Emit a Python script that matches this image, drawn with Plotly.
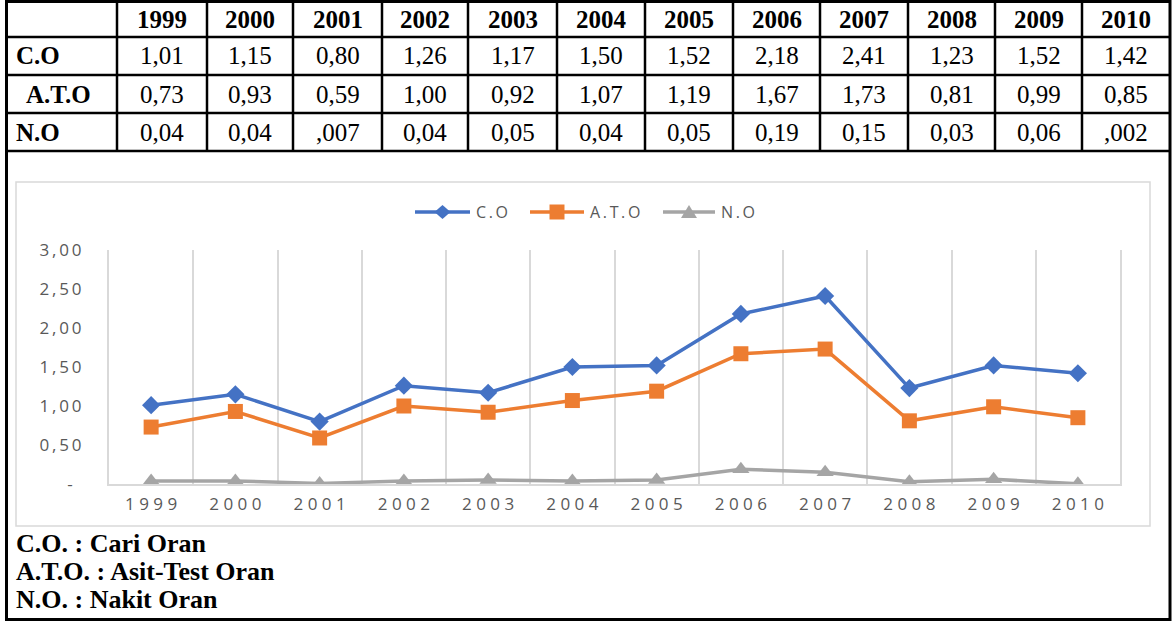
import plotly.graph_objects as go

# --- data -------------------------------------------------------------
years = [1999, 2000, 2001, 2002, 2003, 2004, 2005, 2006, 2007, 2008, 2009, 2010]
co = [1.01, 1.15, 0.80, 1.26, 1.17, 1.50, 1.52, 2.18, 2.41, 1.23, 1.52, 1.42]
ato = [0.73, 0.93, 0.59, 1.00, 0.92, 1.07, 1.19, 1.67, 1.73, 0.81, 0.99, 0.85]
no = [0.04, 0.04, 0.007, 0.04, 0.05, 0.04, 0.05, 0.19, 0.15, 0.03, 0.06, 0.002]

series_names = ["C.O", "A.T.O", "N.O"]
row_labels = ["C.O", "A.T.O", "N.O"]
y_ticks = [0, 0.5, 1.0, 1.5, 2.0, 2.5, 3.0]
notes = ["C.O. : Cari Oran", "A.T.O. : Asit-Test Oran", "N.O. : Nakit Oran"]

W, H = 1173, 622


def X(p):
    return p / W


def Y(p):
    return 1 - p / H


def fmt(v):
    # Turkish decimal comma; values under 0,01 written as ",00x"
    if v < 0.01:
        return ("%.3f" % v)[1:].replace(".", ",")
    return ("%.2f" % v).replace(".", ",")


def spaced(s, sep):
    return sep.join(list(str(s)))


def tick_fmt(v):
    if v == 0:
        return "-\u00a0\u00a0"
    return spaced(("%.2f" % v).replace(".", ","), "\u2009")


def poly(points):
    # closed SVG path in paper coordinates from pixel vertices
    return "M" + "L".join("%.5f,%.5f" % (X(px), Y(py)) for px, py in points) + "Z"


colors = ["#4472C4", "#ED7D31", "#A5A5A5"]
symbols = ["diamond", "square", "triangle-up"]
sizes = [14, 15, 15]

fig = go.Figure()
for name, vals, c, s, sz in zip(series_names, [co, ato, no], colors, symbols, sizes):
    fig.add_trace(go.Scatter(
        x=years, y=vals, name=name, mode="lines+markers",
        line=dict(color=c, width=3.5),
        marker=dict(symbol=s, size=sz, color=c, line=dict(width=0)),
        showlegend=False,
    ))

# --- table and frame ---------------------------------------------------
col_edges = [117, 207, 293, 382, 468, 557, 645, 733, 820, 908, 995, 1082, 1170]
row_edges = [1, 37, 75, 113, 151]
shapes = []
for y in row_edges[1:]:
    shapes.append(dict(type="line", xref="paper", yref="paper",
                       x0=X(6), x1=X(1170), y0=Y(y), y1=Y(y),
                       line=dict(color="black", width=2.5)))
for x in col_edges[:-1]:
    shapes.append(dict(type="line", xref="paper", yref="paper",
                       x0=X(x), x1=X(x), y0=Y(1), y1=Y(151),
                       line=dict(color="black", width=2.5)))
# outer frame
shapes.append(dict(type="rect", xref="paper", yref="paper",
                   x0=X(6.5), x1=X(1170), y0=Y(1.5), y1=Y(619.5),
                   line=dict(color="black", width=3)))
# chart frame
shapes.append(dict(type="rect", xref="paper", yref="paper",
                   x0=X(16), x1=X(1150), y0=Y(182), y1=Y(526),
                   line=dict(color="#D9D9D9", width=1.5), layer="below"))

# --- legend keys (line + marker glyph) ------------------------------------
legend_y = 212
legend_keys = [(415, 470), (530, 584), (663, 715)]
annotations = []
for (x0, x1), name, c, s in zip(legend_keys, series_names, colors, symbols):
    shapes.append(dict(type="line", xref="paper", yref="paper",
                       x0=X(x0), x1=X(x1), y0=Y(legend_y), y1=Y(legend_y),
                       line=dict(color=c, width=3.5)))
    cx = (x0 + x1) / 2
    if s == "diamond":
        pts = [(cx - 8, legend_y), (cx, legend_y - 7), (cx + 8, legend_y), (cx, legend_y + 7)]
    elif s == "square":
        pts = [(cx - 7.5, legend_y - 7.5), (cx + 7.5, legend_y - 7.5),
               (cx + 7.5, legend_y + 7.5), (cx - 7.5, legend_y + 7.5)]
    else:
        pts = [(cx - 8, legend_y + 6), (cx, legend_y - 7), (cx + 8, legend_y + 6)]
    shapes.append(dict(type="path", xref="paper", yref="paper", path=poly(pts),
                       fillcolor=c, line=dict(width=0)))
    annotations.append(dict(x=X(x1 + 4), y=Y(legend_y), xref="paper", yref="paper",
                            text=spaced(name, "\u2009"), showarrow=False,
                            font=dict(family="Open Sans", size=16, color="#595959"),
                            xanchor="left", yanchor="middle"))

# --- table text --------------------------------------------------------
serif = dict(family="Liberation Serif", size=25, color="black")
serif_b = dict(family="Liberation Serif", size=25, color="black", weight=700)
row_centers = [(row_edges[i] + row_edges[i + 1]) / 2 for i in range(4)]
for i, yr in enumerate(years):
    cx = (col_edges[i] + col_edges[i + 1]) / 2
    annotations.append(dict(x=X(cx), y=Y(row_centers[0]), xref="paper", yref="paper",
                            text=str(yr), showarrow=False, font=serif_b,
                            xanchor="center", yanchor="middle"))
    for r, vals in enumerate([co, ato, no]):
        annotations.append(dict(x=X(cx), y=Y(row_centers[r + 1]), xref="paper", yref="paper",
                                text=fmt(vals[i]), showarrow=False, font=serif,
                                xanchor="center", yanchor="middle"))
for r, lab in enumerate(row_labels):
    annotations.append(dict(x=X(14 if r != 1 else 24), y=Y(row_centers[r + 1]),
                            xref="paper", yref="paper", text=lab,
                            showarrow=False, font=serif_b,
                            xanchor="left", yanchor="middle"))
for k, t in enumerate(notes):
    annotations.append(dict(x=X(14), y=Y(543 + 28 * k), xref="paper", yref="paper",
                            text=t, showarrow=False,
                            font=dict(family="Liberation Serif", size=26, color="black", weight=700),
                            xanchor="left", yanchor="middle"))

axis_font = dict(family="Open Sans", size=17, color="#595959")

fig.update_layout(
    width=W, height=H,
    margin=dict(l=0, r=0, t=0, b=0, autoexpand=False),
    paper_bgcolor="white", plot_bgcolor="white",
    shapes=shapes, annotations=annotations,
    showlegend=False,
    xaxis=dict(domain=[X(109), X(1120)], range=[1998.5, 2010.5],
               tickmode="array", tickvals=years, ticktext=[spaced(y, " ") for y in years],
               showgrid=False, zeroline=False,
               showline=True, linecolor="#D9D9D9", linewidth=2,
               ticks="", ticklabelstandoff=4, tickfont=axis_font,
               minor=dict(tickmode="linear", tick0=1998.5, dtick=1, showgrid=True,
                          gridcolor="#D9D9D9", gridwidth=2, ticks="")),
    yaxis=dict(domain=[Y(484), Y(250)], range=[0, 3],
               tickmode="array", tickvals=y_ticks, ticktext=[tick_fmt(v) for v in y_ticks],
               showgrid=False, zeroline=False,
               showline=True, mirror=True, linecolor="#D9D9D9", linewidth=2,
               ticks="", ticklabelstandoff=22, tickfont=axis_font),
)

fig.write_html(
    "out.html",
    post_script="document.body.style.margin='0';document.body.style.overflow='hidden';",
)
